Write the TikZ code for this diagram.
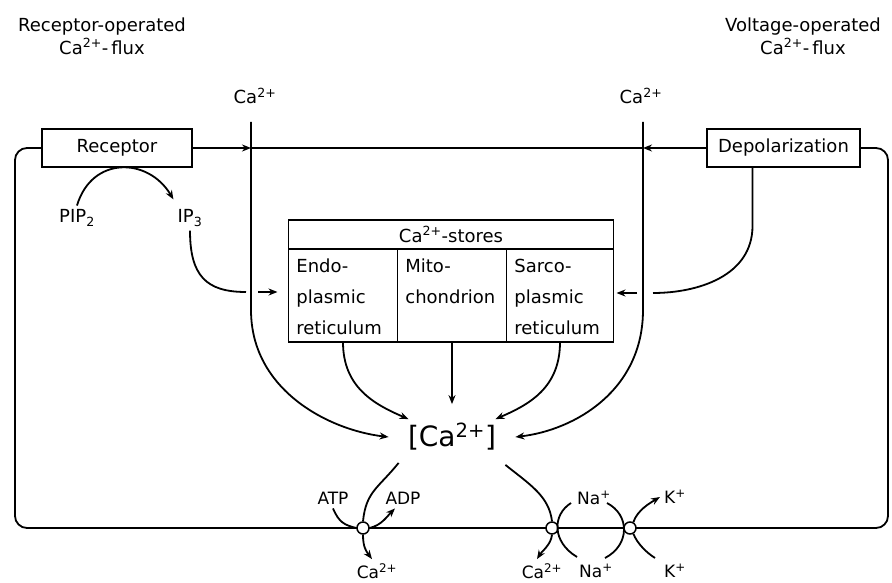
\documentclass[tikz,border=0pt]{standalone}
\usepackage{fontspec}
\setmainfont{DejaVu Sans}
\usetikzlibrary{arrows.meta, positioning}
\newcommand{\caion}{Ca\textsuperscript{2+}}

\begin{document}
\begin{tikzpicture}[x=1pt, y=-1pt, line width=1.8pt, font=\fontsize{18}{23}\selectfont]
    \tikzstyle{block} = [rectangle, draw, minimum width=150, minimum height=38, inner sep=0, fill=white]
    \tikzstyle{store} = [rectangle, draw, outer sep=0, inner sep=0]
    \tikzstyle{storecol} = [store, minimum width=109, minimum height=93, anchor=north west]
    \tikzstyle{coltext} = [anchor=north west, align=left, inner xsep=7pt, inner ysep=9pt, font=\fontsize{18}{31}\selectfont]
    \tikzstyle{pump} = [circle, draw, fill=white, minimum size=12, inner sep=0, line width=1.5pt]
    \tikzstyle{ion} = [font=\fontsize{17}{20}\selectfont]
    \tikzstyle{arrow} = [-{Stealth[length=9pt, width=7pt]}]

    \useasboundingbox (0,0) rectangle (892,583);

    \node[align=center] (rocflux) at (102,36) {Receptor-operated\\\caion-\,flux};
    \node[align=center] (vocflux) at (803,36) {Voltage-operated\\\caion-\,flux};

    \node[block] (receptor) at (117,148) {Receptor};
    \node[block, minimum width=153] (depol) at (783.5,148) {Depolarization};
    \draw[rounded corners=12pt] (receptor.west) -- (15,148) -- (15,528) -- (888,528) -- (888,148) -- (depol.east);

    \coordinate (caLtop) at (251,122);
    \coordinate (caRtop) at (643,122);
    \node[above=14pt of caLtop, xshift=4pt] (caL) {\caion};
    \node[above=14pt of caRtop, xshift=-2pt] (caR) {\caion};

    \draw[arrow] (receptor.east) -- (caLtop |- receptor.east);
    \draw (caLtop |- receptor.east) -- (caRtop |- depol.west);
    \draw[arrow] (depol.west) -- (caRtop |- depol.west);

    \node[store, minimum width=325, minimum height=29] (stores) at (451,234.5) {\caion-stores};
    \node[storecol] (er) at (stores.south west) {};
    \node[storecol] (mito) at (er.north east) {};
    \node[storecol, minimum width=107] (sr) at (mito.north east) {};
    \node[coltext] (ertext) at (er.north west) {Endo-\\plasmic\\reticulum};
    \node[coltext] (mitotext) at (mito.north west) {Mito-\\chondrion};
    \node[coltext] (srtext) at (sr.north west) {Sarco-\\plasmic\\reticulum};

    \node[minimum width=125, minimum height=64, inner sep=0, font=\fontsize{28}{30}\selectfont] (cai) at (452,437) {[\caion]};

    \node (pip) at (77,218) {PIP\textsubscript{2}};
    \node (ip) at (190,218) {IP\textsubscript{3}};

    \coordinate (ipend) at (246,292);
    \coordinate (ipgo) at (258,292);
    \coordinate (dpend) at (653,293);
    \coordinate (dpgo) at (637,293);

    \draw[arrow] (pip.north) .. controls +(15,-50) and +(-25,-42) .. ([yshift=6pt]ip.north west);
    \draw (ip.south) .. controls +(0,45) and +(-40,0) .. (ipend);
    \draw[arrow, shorten >=11pt] (ipgo) -- (ipgo -| er.west);
    \draw ([xshift=-31pt]depol.south) -- ++(0,58) .. controls +(0,50) and +(45,0) .. (dpend);
    \draw[arrow, shorten >=3pt] (dpgo) -- (dpgo -| sr.east);

    \draw[arrow] (caLtop) -- ++(0,188) .. controls +(0,80) and +(-60,-7) .. (cai.west);
    \draw[arrow] (caRtop) -- ++(0,188) .. controls +(0,80) and +(60,-7) .. (cai.east);
    \draw[arrow] (er.south) .. controls +(0,45) and +(-35,-15) .. ([xshift=20pt,yshift=-15pt]cai.north west);
    \draw[arrow] (mito.south) -- (mito.south |- cai.north);
    \draw[arrow] (sr.south) .. controls +(0,45) and +(35,-15) .. ([xshift=-20pt,yshift=-15pt]cai.north east);

    \node[pump] (pump1) at (363,528) {};
    \node[pump] (pump2) at (552,528) {};
    \node[pump] (pump3) at (630,528) {};

    \node[ion] (atp) at (333,498) {ATP};
    \node[ion] (adp) at (403,498) {ADP};
    \node[ion] (caout1) at (377,571) {\caion};
    \node[ion] (caout2) at (542,571) {\caion};
    \node[ion] (natop) at (594,498) {Na\textsuperscript{+}};
    \node[ion] (nabot) at (596,571) {Na\textsuperscript{+}};
    \node[ion] (ktop) at (675,497) {K\textsuperscript{+}};
    \node[ion] (kbot) at (675,571) {K\textsuperscript{+}};

    \coordinate (naA) at (571,503);
    \coordinate (naB) at (577,557);
    \coordinate (naC) at (607,503);
    \coordinate (naD) at (605,558);
    \coordinate (kB) at (655,558);

    \draw (atp.south) .. controls +(6,14) and +(-12,-3) .. (pump1.west);
    \draw[arrow] (pump1.east) .. controls +(12,-3) and +(-8,8) .. ([xshift=-8pt]adp.south);
    \draw ([xshift=10pt,yshift=7pt]cai.south west) .. controls +(-20,25) and +(3,-30) .. (pump1.north);
    \draw[arrow] (pump1.south) .. controls +(0,12) and +(-6,-8) .. ([xshift=-5pt]caout1.north);
    \draw ([xshift=-10pt,yshift=5pt]cai.south east) .. controls +(25,20) and +(-3,-25) .. (pump2.north);
    \draw[arrow] (pump2.south) .. controls +(-1,10) and +(5,-8) .. ([xshift=-5pt]caout2.north);
    \draw (naA) .. controls +(-19,12) and +(-25,-15) .. (naB);
    \draw (naC) .. controls +(23,12) and +(25,-13) .. (naD);
    \draw[arrow] (pump3.60) .. controls +(4,-12) and +(-10,6) .. (ktop.west);
    \draw (kB) .. controls +(-8,-5) and +(4,10) .. (pump3.-60);
\end{tikzpicture}
\end{document}
